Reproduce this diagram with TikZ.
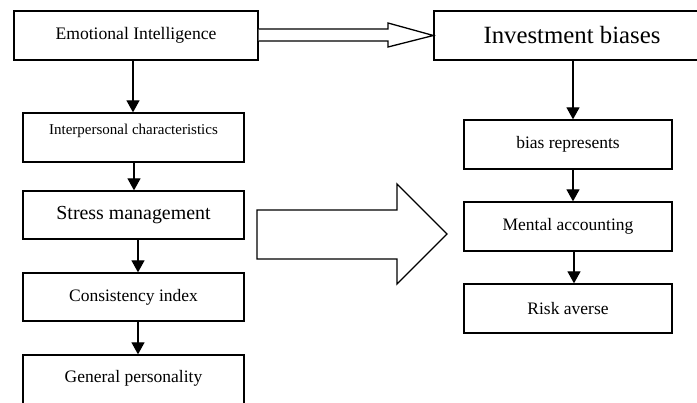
\documentclass[tikz,border=0pt]{standalone}
\usepackage{fontspec}
\setmainfont{Liberation Serif}
\usetikzlibrary{arrows.meta}

\tikzset{
  box/.style={draw, line width=1.3pt, minimum height=49pt, inner sep=0pt, align=center},
  flow/.style={line width=1.3pt, -{Triangle[width=13pt,length=12pt]}},
  hollow/.style={draw, line width=1.3pt, line join=miter, fill=white}
}
\newcommand{\fs}[1]{\fontsize{#1}{#1}\selectfont}

\begin{document}
\begin{tikzpicture}[x=1pt, y=-1pt]

    % --- Frame (pixel units, y downwards) ---
    \clip (0,0) rectangle (697,403);

    % --- Left column ---
    \node[box, minimum width=244pt, font=\fs{17.6}] (ei) at (136,35.5) {Emotional Intelligence};
    \node[box, minimum width=221pt, font=\fs{15}, text height=11pt, text depth=16pt] (ip) at (133.5,137.5) {Interpersonal characteristics};
    \node[box, minimum width=221pt, minimum height=48pt, font=\fs{19.9}] (sm) at (133.5,215) {Stress management};
    \node[box, minimum width=221pt, minimum height=48pt, font=\fs{17.5}] (ci) at (133.5,297) {Consistency index};
    % bottom box runs past the lower edge
    \node[box, minimum width=221pt, minimum height=52pt, font=\fs{17.5}, text depth=9pt] (gp) at (133.5,381) {General personality};

    % --- Right column ---
    % top box runs past the right edge
    \node[box, minimum width=276pt, font=\fs{24.8}] (inv) at (572,35.5) {Investment biases};
    \node[box, minimum width=208pt, font=\fs{17.5}] (br) at (568,144.5) {bias represents};
    \node[box, minimum width=208pt, font=\fs{17.5}] (ma) at (568,226.5) {Mental accounting};
    \node[box, minimum width=208pt, font=\fs{17.5}] (ra) at (568,308.5) {Risk averse};

    % --- Arrows down the columns ---
    \draw[flow] ([xshift=-3pt]ei.south) -- ([xshift=-3pt]ei.south |- ip.north);
    \draw[flow] ([xshift=0.5pt]ip.south) -- ([xshift=0.5pt]sm.north);
    \draw[flow] ([xshift=4.5pt]sm.south) -- ([xshift=4.5pt]ci.north);
    \draw[flow] ([xshift=4.5pt]ci.south) -- ([xshift=4.5pt]gp.north);
    \draw[flow] ([xshift=1pt]inv.south) -- ([xshift=1pt]inv.south |- br.north);
    \draw[flow] ([xshift=5pt]br.south) -- ([xshift=5pt]ma.north);
    \draw[flow] ([xshift=6pt]ma.south) -- ([xshift=6pt]ra.north);

    % --- Hollow arrow between the top boxes ---
    \draw[hollow] (ei.east |- 0,29) -- (388,29) -- (388,23) -- (inv.west)
        -- (388,47) -- (388,41) -- (ei.east |- 0,41);

    % --- Big block arrow ---
    \draw[hollow] (257,210) -- (397,210) -- (397,184) -- (447,234)
        -- (397,284) -- (397,259) -- (257,259) -- cycle;

\end{tikzpicture}
\end{document}
